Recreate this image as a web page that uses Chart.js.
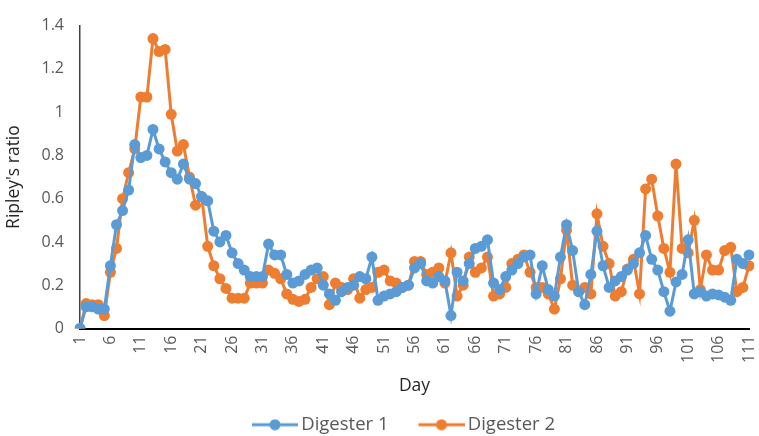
<!DOCTYPE html>
<html>
<head>
<meta charset="utf-8">
<script src="https://cdn.jsdelivr.net/npm/chart.js@4.4.1/dist/chart.umd.min.js"></script>
<style>
    html, body { margin: 0; padding: 0; background: #ffffff; }
    #box { width: 759px; height: 436px; }
</style>
</head>
<body>
<div id="box"><canvas id="ripleyChart"></canvas></div>
<script>
// day numbers 1..111
var days = [];
for (var d = 1; d <= 111; d++) days.push(String(d));

// Ripley's ratio
var digester1 = [
    0, 0.1, 0.1, 0.09, 0.09, 0.29, 0.48, 0.545, 0.64, 0.85,
    0.79, 0.8, 0.92, 0.83, 0.77, 0.72, 0.69, 0.76, 0.69, 0.67,
    0.61, 0.59, 0.45, 0.4, 0.43, 0.35, 0.3, 0.27, 0.24, 0.24,
    0.24, 0.39, 0.34, 0.34, 0.25, 0.21, 0.22, 0.25, 0.27, 0.28,
    0.2, 0.16, 0.13, 0.17, 0.19, 0.2, 0.24, 0.23, 0.33, 0.13,
    0.15, 0.16, 0.17, 0.19, 0.2, 0.28, 0.3, 0.22, 0.21, 0.24,
    0.22, 0.06, 0.26, 0.22, 0.3, 0.37, 0.38, 0.41, 0.21, 0.18,
    0.24, 0.27, 0.3, 0.33, 0.34, 0.16, 0.29, 0.18, 0.15, 0.33,
    0.48, 0.36, 0.17, 0.11, 0.25, 0.45, 0.29, 0.19, 0.22, 0.24,
    0.27, 0.3, 0.35, 0.43, 0.32, 0.27, 0.17, 0.08, 0.215, 0.25,
    0.41, 0.16, 0.17, 0.15, 0.16, 0.155, 0.145, 0.13, 0.32, 0.3, 0.34
];
var digester2 = [
    0, 0.115, 0.11, 0.11, 0.06, 0.26, 0.37, 0.6, 0.72, 0.83,
    1.07, 1.07, 1.34, 1.28, 1.29, 0.99, 0.82, 0.85, 0.7, 0.57,
    0.61, 0.38, 0.29, 0.23, 0.185, 0.14, 0.14, 0.14, 0.21, 0.21,
    0.21, 0.27, 0.255, 0.23, 0.16, 0.135, 0.125, 0.135, 0.19, 0.23,
    0.24, 0.11, 0.21, 0.19, 0.18, 0.23, 0.14, 0.18, 0.19, 0.26,
    0.27, 0.22, 0.21, 0.19, 0.2, 0.31, 0.31, 0.25, 0.26, 0.28,
    0.21, 0.35, 0.15, 0.2, 0.33, 0.26, 0.28, 0.33, 0.15, 0.16,
    0.19, 0.3, 0.32, 0.34, 0.26, 0.19, 0.19, 0.16, 0.09, 0.23,
    0.455, 0.2, 0.17, 0.19, 0.16, 0.53, 0.38, 0.3, 0.15, 0.17,
    0.275, 0.32, 0.16, 0.645, 0.69, 0.52, 0.37, 0.26, 0.76, 0.37,
    0.35, 0.5, 0.18, 0.34, 0.27, 0.27, 0.36, 0.375, 0.17, 0.19, 0.29
];
var seriesNames = ['Digester 1', 'Digester 2'];
var seriesColors = ['#5B9BD5', '#ED7D31'];

var textColor = '#595959';
var titleColor = '#262626';
var fontFamily = "'Open Sans', 'Liberation Sans', sans-serif";

// line-with-dot sample for the legend, like Excel draws it.
// canvas is wider than the box so the sample sits at its right end
function legendMarker(color) {
    var c = document.createElement('canvas');
    c.width = 78;
    c.height = 12;
    var g = c.getContext('2d');
    g.strokeStyle = color;
    g.lineWidth = 3;
    g.beginPath();
    g.moveTo(32, 6);
    g.lineTo(78, 6);
    g.stroke();
    g.fillStyle = color;
    g.beginPath();
    g.arc(55, 6, 5.5, 0, Math.PI * 2);
    g.fill();
    return c;
}

// legend in the reference is centred under the plot, not the canvas
var legendShift = {
    id: 'legendShift',
    afterLayout: function (chart) {
        var lg = chart.legend;
        if (!lg) return;
        lg.left += 11;
        lg.right += 11;
    },
};

function ripleyChart() {
    const ctx = document.getElementById('ripleyChart').getContext('2d');
    const myChart = new Chart(ctx, {
        type: 'line',
        data: {
            labels: days,
            datasets: [
                {
                    label: seriesNames[0],
                    data: digester1,
                    borderColor: seriesColors[0],
                    backgroundColor: seriesColors[0],
                    borderWidth: 3,
                    pointRadius: 5.5,
                    pointBorderWidth: 0,
                    tension: 0,
                },
                {
                    label: seriesNames[1],
                    data: digester2,
                    borderColor: seriesColors[1],
                    backgroundColor: seriesColors[1],
                    borderWidth: 3,
                    pointRadius: 5.5,
                    pointBorderWidth: 0,
                    tension: 0,
                },
            ]
        },
        plugins: [legendShift],
        options: {
            responsive: true,
            maintainAspectRatio: false,
            animation: false,
            layout: {
                padding: {
                    top: 17,
                    right: 0,
                    left: 0,
                    bottom: -8,
                }
            },
            plugins: {
                legend: {
                    position: 'bottom',
                    labels: {
                        usePointStyle: true,
                        pointStyleWidth: 66,
                        color: textColor,
                        padding: 4,
                        font: {
                            family: fontFamily,
                            size: 18.5,
                        },
                        generateLabels: function (chart) {
                            var items = Chart.defaults.plugins.legend.labels.generateLabels(chart);
                            items.forEach(function (item, i) {
                                item.pointStyle = legendMarker(seriesColors[i]);
                            });
                            return items;
                        },
                    }
                },
                tooltip: {
                    enabled: false,
                }
            },
            scales: {
                x: {
                    offset: false,
                    grid: {
                        display: false,
                        drawTicks: false,
                    },
                    border: {
                        display: true,
                        color: '#000000',
                        width: 2,
                    },
                    title: {
                        display: true,
                        text: 'Day',
                        color: titleColor,
                        font: {
                            family: fontFamily,
                            size: 17.5,
                        },
                        padding: { top: 15, bottom: 15 },
                    },
                    ticks: {
                        color: textColor,
                        autoSkip: false,
                        minRotation: 90,
                        maxRotation: 90,
                        padding: 7,
                        font: {
                            family: fontFamily,
                            size: 16,
                        },
                        callback: function (value, index) {
                            if (index % 5 == 0) {
                                return days[index];
                            }
                            return null;
                        },
                    },
                    afterFit: function (scale) {
                        scale.height = 83;
                        scale.paddingRight = 10;
                    },
                },
                y: {
                    min: 0,
                    max: 1.4,
                    grid: {
                        display: false,
                        drawTicks: false,
                    },
                    border: {
                        display: true,
                        color: '#404040',
                        width: 1.5,
                    },
                    title: {
                        display: true,
                        text: "Ripley's ratio",
                        color: titleColor,
                        font: {
                            family: fontFamily,
                            size: 17.5,
                        },
                        padding: { top: 4, bottom: 4 },
                    },
                    ticks: {
                        stepSize: 0.2,
                        color: textColor,
                        padding: 16,
                        font: {
                            family: fontFamily,
                            size: 16,
                        },
                        callback: function (value) {
                            return String(Math.round(value * 10) / 10);
                        },
                    },
                    afterFit: function (scale) {
                        scale.width = 80;
                    },
                }
            }
        }
    });
}

ripleyChart();
</script>
</body>
</html>
